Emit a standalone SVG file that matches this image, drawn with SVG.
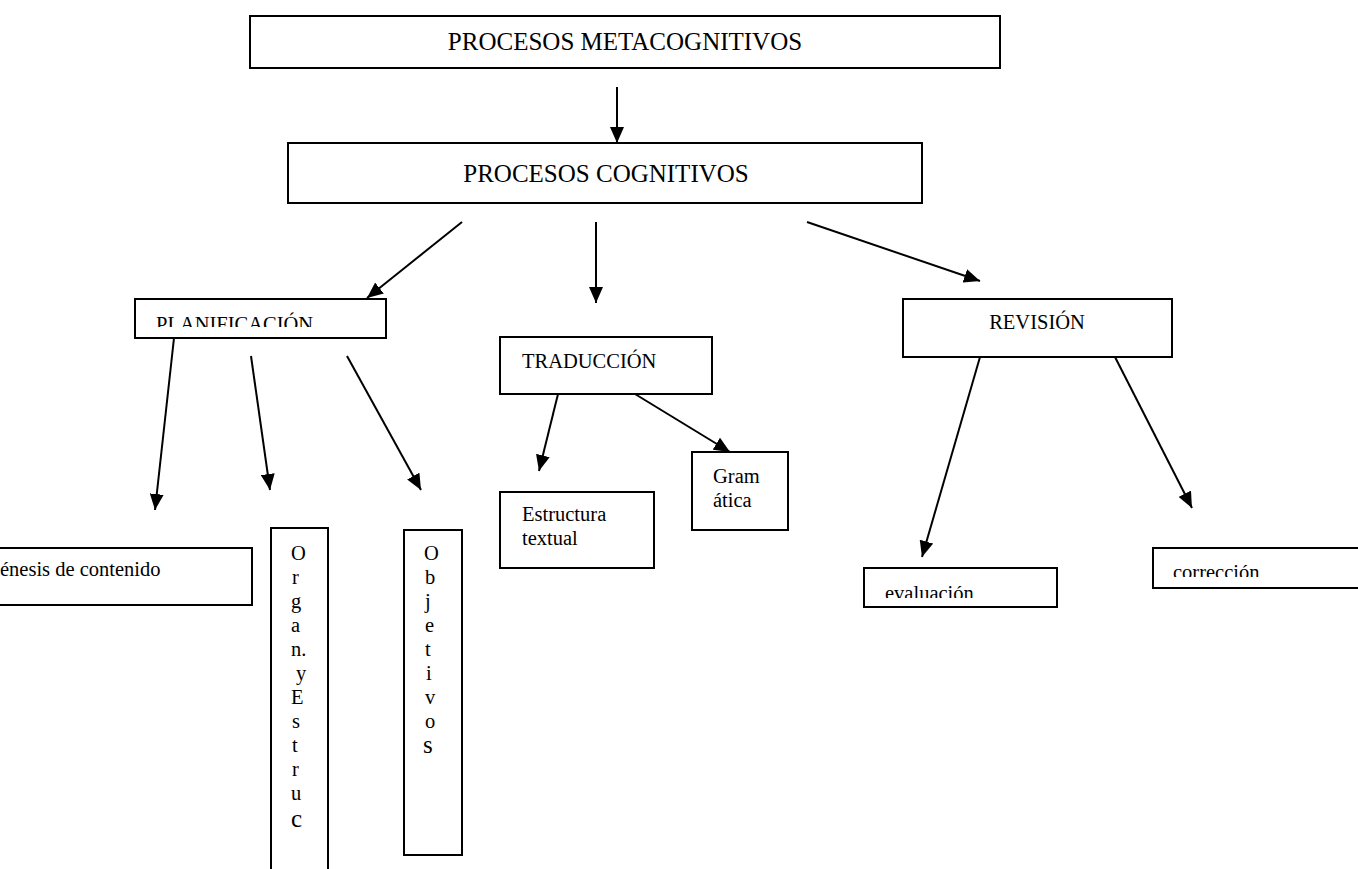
<svg xmlns="http://www.w3.org/2000/svg" width="1358" height="869" viewBox="0 0 1358 869">
  <style>
    .box { fill: #ffffff; stroke: #000000; stroke-width: 2; }
    .t { font-family: "Liberation Serif", "Times New Roman", serif; fill: #000000; }
    .big { font-size: 25px; }
    .sm { font-size: 20.5px; }
    .conn line { stroke: #000000; stroke-width: 2; marker-end: url(#arr); }
  </style>
  <defs>
    <marker id="arr" markerUnits="userSpaceOnUse" markerWidth="16" markerHeight="14" refX="16" refY="7" orient="auto">
      <path d="M0,0 L16,7 L0,14 z" fill="#000000"/>
    </marker>
    <clipPath id="clipPlan"><rect x="134" y="298" width="252" height="29"/></clipPath>
    <clipPath id="clipEval"><rect x="864" y="568" width="193" height="30"/></clipPath>
    <clipPath id="clipCorr"><rect x="1153" y="548" width="205" height="29"/></clipPath>
  </defs>

  <g id="connectors" class="conn">
    <line x1="617" y1="87" x2="617" y2="143"/>
    <line x1="462" y1="222" x2="367" y2="298"/>
    <line x1="596" y1="222" x2="596" y2="303"/>
    <line x1="807" y1="222" x2="980" y2="281"/>
    <line x1="174" y1="338" x2="155" y2="510"/>
    <line x1="251" y1="356" x2="270" y2="490"/>
    <line x1="347" y1="356" x2="421" y2="490"/>
    <line x1="558" y1="394" x2="539" y2="471"/>
    <line x1="635" y1="394" x2="730" y2="452"/>
    <line x1="980" y1="357" x2="922" y2="557"/>
    <line x1="1115" y1="357" x2="1192" y2="508"/>
  </g>

  <g id="metacognitivos">
    <rect class="box" x="250" y="16" width="750" height="52"/>
    <text class="t big" x="625" y="50" text-anchor="middle">PROCESOS METACOGNITIVOS</text>
  </g>

  <g id="cognitivos">
    <rect class="box" x="288" y="143" width="634" height="60"/>
    <text class="t big" x="606" y="182" text-anchor="middle">PROCESOS COGNITIVOS</text>
  </g>

  <g id="planificacion">
    <rect class="box" x="135" y="299" width="251" height="39"/>
    <text class="t sm" x="156" y="331" clip-path="url(#clipPlan)">PLANIFICACIÓN</text>
  </g>

  <g id="traduccion">
    <rect class="box" x="500" y="337" width="212" height="57"/>
    <text class="t sm" x="522" y="368">TRADUCCIÓN</text>
  </g>

  <g id="revision">
    <rect class="box" x="903" y="299" width="269" height="58"/>
    <text class="t sm" x="1037" y="329" text-anchor="middle">REVISIÓN</text>
  </g>

  <g id="genesis">
    <rect class="box" x="-5" y="548" width="257" height="57"/>
    <text class="t sm" x="0" y="576">énesis de contenido</text>
  </g>

  <g id="organ">
    <rect class="box" x="271" y="528" width="57" height="350"/>
    <text class="t sm">
      <tspan x="291" y="560">O</tspan>
      <tspan x="292" y="584">r</tspan>
      <tspan x="291" y="608">g</tspan>
      <tspan x="291" y="632">a</tspan>
      <tspan x="291" y="656">n.</tspan>
      <tspan x="296" y="680">y</tspan>
      <tspan x="291" y="704">E</tspan>
      <tspan x="292" y="728">s</tspan>
      <tspan x="292" y="752">t</tspan>
      <tspan x="292" y="776">r</tspan>
      <tspan x="291" y="800">u</tspan>
      <tspan x="291" y="827" style="font-size:25px">c</tspan>
    </text>
  </g>

  <g id="objetivos">
    <rect class="box" x="404" y="530" width="58" height="325"/>
    <text class="t sm">
      <tspan x="424" y="560">O</tspan>
      <tspan x="425" y="584">b</tspan>
      <tspan x="425" y="608">j</tspan>
      <tspan x="425" y="632">e</tspan>
      <tspan x="425" y="656">t</tspan>
      <tspan x="426" y="680">i</tspan>
      <tspan x="425" y="704">v</tspan>
      <tspan x="425" y="728">o</tspan>
      <tspan x="423" y="753" style="font-size:25px">s</tspan>
    </text>
  </g>

  <g id="estructura">
    <rect class="box" x="500" y="492" width="154" height="76"/>
    <text class="t sm" x="522" y="521">Estructura</text>
    <text class="t sm" x="522" y="545">textual</text>
  </g>

  <g id="gramatica">
    <rect class="box" x="692" y="452" width="96" height="78"/>
    <text class="t sm" x="713" y="483">Gram</text>
    <text class="t sm" x="713" y="507">ática</text>
  </g>

  <g id="evaluacion">
    <rect class="box" x="864" y="568" width="193" height="39"/>
    <text class="t sm" x="885" y="600" clip-path="url(#clipEval)">evaluación</text>
  </g>

  <g id="correccion">
    <rect class="box" x="1153" y="548" width="215" height="40"/>
    <text class="t sm" x="1173" y="579" clip-path="url(#clipCorr)">corrección</text>
  </g>
</svg>
